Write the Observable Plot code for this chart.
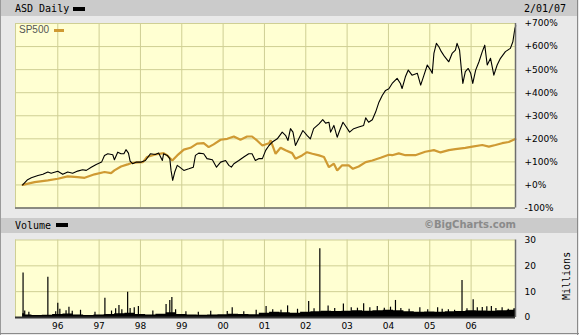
<!DOCTYPE html>
<html>
<head>
<meta charset="utf-8">
<script src="https://cdn.jsdelivr.net/npm/d3@7"></script>
<script src="https://cdn.jsdelivr.net/npm/@observablehq/plot@0.6"></script>
<style>
  html, body { margin: 0; padding: 0; background: #ffffff; }
  #chart { position: relative; width: 579px; height: 335px; background: #e9e9e9; overflow: hidden; }
  .abs { position: absolute; }
  .bar { background: #cbcbcb; }
  .mono { font-family: "DejaVu Sans Mono", monospace; font-size: 10px; color: #000; line-height: 1; }
  svg { position: absolute; left: 0; }
</style>
</head>
<body>
<div id="chart"></div>
<script>
// ---- data ----
const asdYears = [1995.15,1995.27,1995.36,1995.52,1995.64,1995.76,1995.84,1996.00,1996.12,1996.24,
  1996.36,1996.48,1996.60,1996.69,1996.81,1996.93,1997.06,1997.13,1997.21,1997.33,
  1997.37,1997.45,1997.53,1997.60,1997.65,1997.71,1997.75,1997.81,1997.90,1998.02,
  1998.12,1998.24,1998.36,1998.44,1998.53,1998.56,1998.65,1998.71,1998.74,1998.78,
  1998.83,1998.89,1998.95,1999.05,1999.17,1999.28,1999.33,1999.41,1999.53,1999.61,
  1999.74,1999.84,1999.94,2000.06,2000.14,2000.20,2000.26,2000.38,2000.50,2000.62,
  2000.70,2000.78,2000.86,2000.95,2001.03,2001.11,2001.19,2001.31,2001.43,2001.51,
  2001.57,2001.63,2001.69,2001.75,2001.83,2001.93,2002.03,2002.11,2002.19,2002.32,
  2002.41,2002.48,2002.56,2002.60,2002.68,2002.76,2002.82,2002.90,2002.98,2003.06,
  2003.16,2003.28,2003.40,2003.45,2003.52,2003.61,2003.69,2003.77,2003.85,2003.93,
  2004.01,2004.09,2004.21,2004.29,2004.33,2004.41,2004.48,2004.57,2004.70,2004.78,
  2004.86,2004.94,2005.02,2005.06,2005.10,2005.16,2005.22,2005.28,2005.36,2005.46,
  2005.54,2005.62,2005.66,2005.72,2005.77,2005.80,2005.86,2005.93,2005.99,2006.04,
  2006.11,2006.19,2006.27,2006.33,2006.39,2006.47,2006.55,2006.63,2006.71,2006.83,
  2006.95,2007.01,2007.06,2007.08];
const asdPct = [0,23,31,41,46,56,51,59,46,56,
  51,60,66,63,77,89,99,128,135,131,
  109,142,135,135,153,138,103,92,99,99,
  106,135,132,138,106,135,128,114,63,20,
  56,85,77,63,70,77,128,138,135,114,
  109,77,99,106,85,77,92,106,121,135,
  135,106,114,114,150,171,186,200,229,215,
  193,244,229,171,200,236,215,200,244,265,
  283,268,272,229,258,207,236,272,251,229,
  244,251,258,291,272,283,316,359,388,410,
  417,440,462,440,418,469,498,476,484,433,
  476,520,498,484,570,614,599,578,556,534,
  570,585,614,585,491,440,491,505,484,440,
  498,534,578,606,520,549,476,520,549,578,
  592,621,679,690];

const spYears = [1995.15,1995.44,1995.76,1996.00,1996.24,1996.48,1996.65,1996.89,1997.13,1997.29,
  1997.37,1997.53,1997.69,1997.78,1997.94,1998.06,1998.16,1998.36,1998.56,1998.65,
  1998.77,1998.89,1999.05,1999.21,1999.37,1999.53,1999.65,1999.77,1999.94,2000.10,
  2000.26,2000.42,2000.58,2000.70,2000.82,2000.95,2001.11,2001.15,2001.27,2001.39,
  2001.51,2001.67,2001.75,2001.91,2002.03,2002.16,2002.32,2002.44,2002.56,2002.68,
  2002.76,2002.88,2003.04,2003.14,2003.28,2003.45,2003.61,2003.81,2004.01,2004.09,
  2004.25,2004.41,2004.65,2004.89,2005.10,2005.26,2005.46,2005.62,2005.86,2006.03,
  2006.27,2006.43,2006.59,2006.75,2006.91,2007.07];
const spPct = [0,12,20,27,37,34,31,46,56,51,
  63,80,89,95,98,99,121,132,138,128,
  106,128,153,161,179,181,164,176,196,200,
  210,196,210,210,193,171,181,193,135,161,
  150,138,114,128,142,135,128,121,77,92,
  63,85,85,70,80,99,106,118,131,129,
  137,129,129,144,151,141,151,155,161,166,
  173,166,173,181,186,199];

// volume (millions): typical daily level and individual spikes
const volBaseYears = [1995.15,1995.25,1995.5,1995.75,1996.0,1996.25,1996.5,1996.75,1997.0,1997.25,
  1997.5,1997.75,1998.0,1998.25,1998.5,1998.75,1999.0,1999.25,1999.5,1999.75,
  2000.0,2000.25,2000.5,2000.75,2001.0,2001.25,2001.5,2001.75,2002.0,2002.25,
  2002.5,2002.75,2003.0,2003.25,2003.5,2003.75,2004.0,2004.25,2004.5,2004.75,
  2005.0,2005.25,2005.5,2005.75,2006.0,2006.25,2006.5,2006.75,2007.0,2007.07];
const volBase = [1.5,1.0,0.8,0.9,1.2,1.4,1.0,0.8,1.0,1.2,
  1.5,1.6,1.2,1.0,1.3,1.8,1.2,1.0,0.9,1.0,
  1.1,1.3,1.2,1.1,1.6,2.0,1.8,1.6,2.0,2.2,
  2.4,2.3,2.4,2.6,2.4,2.6,2.8,2.6,2.2,2.0,
  2.1,2.0,2.2,2.3,2.6,2.5,2.4,2.6,2.8,3.0];
const spikeYears = [1995.16,1995.2,1995.3,1995.76,1995.95,1996.0,1996.05,1996.2,1996.27,1996.35,
  1996.55,1996.9,1997.14,1997.3,1997.4,1997.48,1997.55,1997.69,1997.75,1997.85,
  1997.95,1998.3,1998.62,1998.71,1998.76,1998.85,1999.1,1999.4,1999.7,2000.1,
  2000.22,2000.5,2000.8,2001.04,2001.2,2001.4,2001.56,2001.8,2002.07,2002.2,
  2002.34,2002.54,2002.7,2002.91,2003.1,2003.25,2003.40,2003.55,2003.73,2003.9,
  2004.05,2004.17,2004.3,2004.5,2004.76,2004.95,2005.19,2005.3,2005.45,2005.6,
  2005.78,2005.9,2006.05,2006.15,2006.27,2006.38,2006.49,2006.6,2006.75,2006.9,
  2007.04];
const spikeVol = [17.2,2.5,2.0,15.6,2.2,5.5,3.2,2.6,4.0,2.4,
  2.8,2.0,7.5,2.5,3.4,4.6,3.0,9.8,3.5,3.8,
  4.3,2.5,5.0,6.6,7.7,3.0,2.2,2.0,2.4,2.3,
  3.8,2.2,2.8,4.3,3.0,2.8,4.5,3.2,6.2,3.4,
  26.6,4.5,3.5,5.2,3.8,3.6,5.3,3.8,4.3,3.6,
  4.0,6.6,3.5,3.2,3.8,3.0,3.8,3.2,3.0,2.8,
  14.3,3.4,6.9,3.8,3.9,4.2,4.3,3.5,3.8,3.2,
  3.5];

const yearTicks = [1996,1997,1998,1999,2000,2001,2002,2003,2004,2005,2006];
const yearLabels = ["96","97","98","99","00","01","02","03","04","05","06"];
const pctTicks = [-100,0,100,200,300,400,500,600,700];
const volTicks = [0,10,20,30];
const dateLabel = "2/01/07";

// ---- build ----
const zip = (xs, ys) => xs.slice(0, Math.min(xs.length, ys.length)).map((x, i) => ({x, y: ys[i]}));
const asd = zip(asdYears, asdPct);
const sp = zip(spYears, spPct);
const base = zip(volBaseYears, volBase);
const spikes = zip(spikeYears, spikeVol);

const xDomain = [1994.977, 2007.074];
const bg = "#ffffd2";
const gridC = "#cfcf94";
const shadow = "#6e6e6e";
const orange = "#cf9a33";
const labelOf = new Map(yearTicks.map((t, i) => [t, yearLabels[i]]));

const chart = document.getElementById("chart");
function addDiv(css, cls, text) {
  const d = document.createElement("div");
  d.className = "abs " + (cls || "");
  Object.assign(d.style, css);
  if (text) d.textContent = text;
  chart.appendChild(d);
  return d;
}

// outer borders
addDiv({left: "0px", top: "0px", width: "1px", height: "335px", background: "#9a9a9a"});
addDiv({left: "577px", top: "0px", width: "1px", height: "335px", background: "#8a8a8a"});
addDiv({left: "0px", top: "333px", width: "579px", height: "1px", background: "#8a8a8a"});

// header bars
addDiv({left: "1px", top: "0px", width: "576px", height: "16px"}, "bar");
addDiv({left: "1px", top: "218px", width: "576px", height: "15px"}, "bar");

const price = Plot.plot({
  width: 579, height: 210,
  marginLeft: 15, marginRight: 64, marginTop: 23, marginBottom: 2.5,
  x: {domain: xDomain, axis: null},
  y: {domain: [-100, 700], axis: null},
  style: {background: "transparent", fontFamily: "DejaVu Sans", fontSize: "9px", color: "#000", overflow: "visible"},
  marks: [
    Plot.frame({fill: bg, stroke: null}),
    Plot.gridX(yearTicks, {stroke: gridC, strokeOpacity: 1}),
    Plot.gridY(pctTicks, {stroke: gridC, strokeOpacity: 1}),
    Plot.ruleX([xDomain[0]], {stroke: gridC}),
    Plot.line(sp, {x: "x", y: "y", stroke: orange, strokeWidth: 2.2, strokeLinejoin: "miter"}),
    Plot.line(asd, {x: "x", y: "y", stroke: "#000", strokeWidth: 1.1}),
    Plot.ruleY([-100], {stroke: shadow, strokeWidth: 1.5}),
    Plot.ruleX([xDomain[1]], {stroke: shadow, strokeWidth: 1.5}),
    Plot.axisY(pctTicks, {anchor: "right", label: null, tickSize: 0, tickPadding: 9,
      tickFormat: d => (d >= 0 ? "+" : "") + d + "%", fill: "#000"})
  ]
});
price.style.top = "0px";
chart.appendChild(price);

const vol = Plot.plot({
  width: 579, height: 103,
  marginLeft: 15, marginRight: 64, marginTop: 7.5, marginBottom: 18,
  x: {domain: xDomain, axis: null},
  y: {domain: [0, 30], axis: null},
  style: {background: "transparent", fontFamily: "DejaVu Sans", fontSize: "9px", color: "#000", overflow: "visible"},
  marks: [
    Plot.frame({fill: bg, stroke: null}),
    Plot.gridX(yearTicks, {stroke: gridC, strokeOpacity: 1}),
    Plot.gridY([10, 20, 30], {stroke: gridC, strokeOpacity: 1}),
    Plot.ruleX([xDomain[0]], {stroke: gridC}),
    Plot.areaY(base, {x: "x", y: "y", fill: "#000", curve: "step"}),
    Plot.ruleX(spikes, {x: "x", y1: 0, y2: "y", stroke: "#000", strokeWidth: 1.2}),
    Plot.ruleY([0], {stroke: "#333", strokeWidth: 2}),
    Plot.ruleX([xDomain[1]], {stroke: shadow, strokeWidth: 1.5}),
    Plot.axisY(volTicks, {anchor: "right", label: null, tickSize: 0, tickPadding: 9, tickFormat: d => String(d), fill: "#000"}),
    Plot.axisX(yearTicks, {anchor: "bottom", label: null, tickSize: 0, tickPadding: 5, tickFormat: d => labelOf.get(d), fill: "#000"})
  ]
});
vol.style.top = "232px";
chart.appendChild(vol);

// texts and legend swatches
addDiv({left: "15px", top: "4px"}, "mono", "ASD Daily");
addDiv({left: "73px", top: "7px", width: "12px", height: "4px", background: "#000"});
addDiv({left: "524px", top: "4px"}, "mono", dateLabel);
addDiv({left: "19px", top: "25px", fontFamily: "Liberation Sans", fontSize: "10px", color: "#555", lineHeight: "1"}, "", "SP500");
addDiv({left: "54px", top: "29px", width: "10px", height: "3px", background: orange});
addDiv({left: "15px", top: "221px"}, "mono", "Volume");
addDiv({left: "56px", top: "223px", width: "12px", height: "4px", background: "#000"});
addDiv({right: "63px", top: "220px", fontFamily: "DejaVu Sans", fontWeight: "bold", fontSize: "10px", color: "#8a8a8a", lineHeight: "1"}, "", "©BigCharts.com");
addDiv({left: "543px", top: "271px", width: "48px", transform: "rotate(-90deg)", textAlign: "center"}, "mono", "Millions");
</script>
</body>
</html>
